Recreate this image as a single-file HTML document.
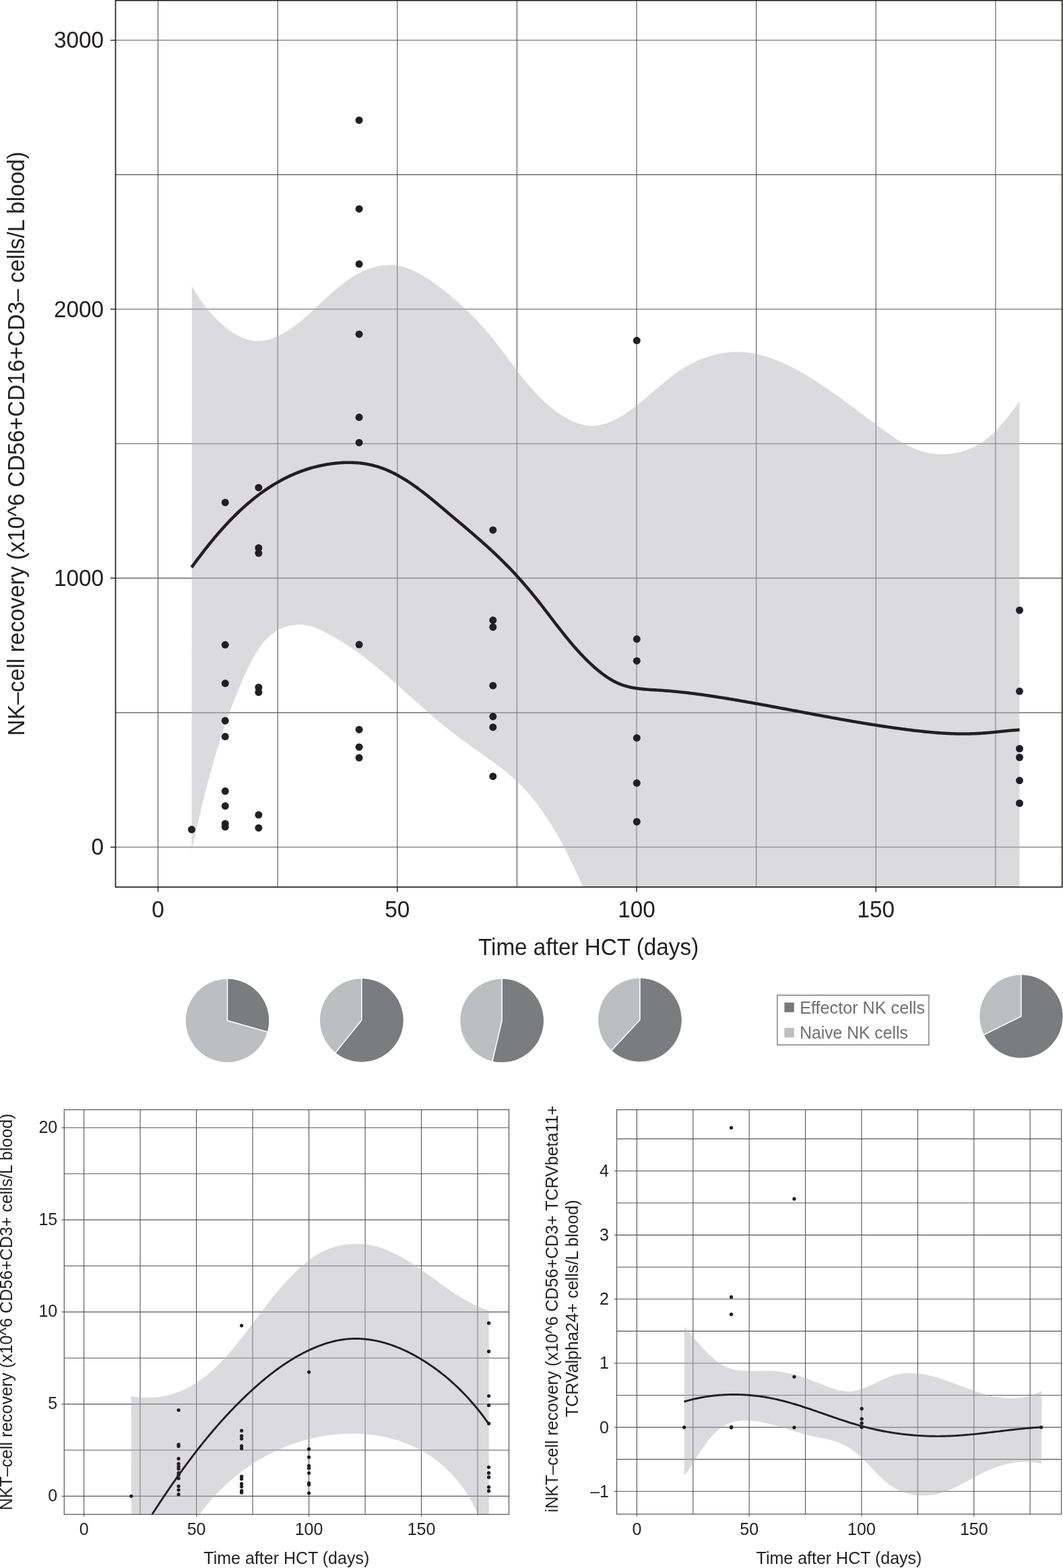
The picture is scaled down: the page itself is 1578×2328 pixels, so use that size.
<!DOCTYPE html>
<html><head><meta charset="utf-8"><title>NK cell recovery after HCT</title>
<style>
html,body{margin:0;padding:0;background:#fff;}
body{width:1578px;height:2328px;overflow:hidden;position:relative;}
svg{position:absolute;left:0;top:0;display:block;}
text{font-family:'Liberation Sans', sans-serif;}
</style></head>
<body>
<svg width="1578" height="2328" viewBox="0 0 1578 2328" font-family="'Liberation Sans', sans-serif"><clipPath id="cm"><rect x="171.5" y="0.7" width="1405.2" height="1316.3"/></clipPath>
<g stroke="#555456" stroke-width="1.1"><line x1="171.5" y1="1257.75" x2="1576.7" y2="1257.75"/><line x1="171.5" y1="1058.08" x2="1576.7" y2="1058.08"/><line x1="171.5" y1="858.40" x2="1576.7" y2="858.40"/><line x1="171.5" y1="658.73" x2="1576.7" y2="658.73"/><line x1="171.5" y1="459.05" x2="1576.7" y2="459.05"/><line x1="171.5" y1="259.38" x2="1576.7" y2="259.38"/><line x1="171.5" y1="59.70" x2="1576.7" y2="59.70"/><line x1="234.60" y1="0.7" x2="234.60" y2="1317.0"/><line x1="412.21" y1="0.7" x2="412.21" y2="1317.0"/><line x1="589.82" y1="0.7" x2="589.82" y2="1317.0"/><line x1="767.44" y1="0.7" x2="767.44" y2="1317.0"/><line x1="945.05" y1="0.7" x2="945.05" y2="1317.0"/><line x1="1122.66" y1="0.7" x2="1122.66" y2="1317.0"/><line x1="1300.27" y1="0.7" x2="1300.27" y2="1317.0"/><line x1="1477.89" y1="0.7" x2="1477.89" y2="1317.0"/></g>
<path d="M284.86,424.52 L285.89,426.41 L286.97,428.32 L288.10,430.27 L289.27,432.24 L290.49,434.24 L291.75,436.25 L293.05,438.29 L294.39,440.34 L295.78,442.41 L297.21,444.48 L298.67,446.57 L300.17,448.66 L301.71,450.75 L303.29,452.85 L304.90,454.94 L306.55,457.03 L308.23,459.11 L309.94,461.17 L311.69,463.23 L313.46,465.27 L315.27,467.29 L317.10,469.29 L318.97,471.27 L320.86,473.22 L322.77,475.14 L324.71,477.03 L326.68,478.88 L328.67,480.70 L330.68,482.48 L332.72,484.21 L334.77,485.90 L336.85,487.54 L338.94,489.14 L341.05,490.68 L343.18,492.16 L345.32,493.58 L347.48,494.95 L349.66,496.25 L351.85,497.48 L354.05,498.65 L356.26,499.74 L358.48,500.76 L360.71,501.70 L362.96,502.56 L365.21,503.34 L367.46,504.04 L369.72,504.65 L371.99,505.16 L374.26,505.59 L376.54,505.92 L378.82,506.15 L381.10,506.27 L383.38,506.30 L385.66,506.23 L387.93,506.07 L390.21,505.81 L392.49,505.47 L394.76,505.04 L397.04,504.53 L399.30,503.93 L401.57,503.26 L403.83,502.51 L406.08,501.69 L408.33,500.80 L410.57,499.84 L412.80,498.82 L415.03,497.74 L417.25,496.61 L419.46,495.41 L421.66,494.16 L423.84,492.87 L426.02,491.53 L428.19,490.14 L430.34,488.71 L432.49,487.24 L434.61,485.74 L436.73,484.20 L438.83,482.64 L440.91,481.05 L442.98,479.43 L445.03,477.79 L447.07,476.13 L449.09,474.46 L451.09,472.77 L453.07,471.07 L455.04,469.36 L457.00,467.64 L458.94,465.91 L460.87,464.17 L462.78,462.42 L464.69,460.67 L466.59,458.92 L468.48,457.16 L470.37,455.40 L472.24,453.64 L474.12,451.88 L475.99,450.13 L477.85,448.37 L479.72,446.62 L481.58,444.88 L483.44,443.14 L485.31,441.41 L487.17,439.69 L489.04,437.99 L490.92,436.29 L492.80,434.61 L494.69,432.94 L496.58,431.28 L498.48,429.64 L500.39,428.03 L502.32,426.43 L504.25,424.85 L506.20,423.29 L508.16,421.75 L510.13,420.24 L512.12,418.76 L514.13,417.30 L516.15,415.87 L518.20,414.46 L520.26,413.09 L522.35,411.75 L524.45,410.44 L526.58,409.17 L528.73,407.93 L530.91,406.73 L533.12,405.56 L535.35,404.44 L537.61,403.35 L539.89,402.31 L542.21,401.31 L544.54,400.36 L546.90,399.45 L549.28,398.60 L551.67,397.80 L554.08,397.06 L556.50,396.38 L558.94,395.77 L561.38,395.21 L563.82,394.73 L566.28,394.31 L568.73,393.97 L571.18,393.70 L573.63,393.50 L576.08,393.39 L578.52,393.36 L580.95,393.42 L583.38,393.56 L585.79,393.78 L588.19,394.08 L590.58,394.46 L592.96,394.92 L595.33,395.45 L597.69,396.05 L600.04,396.71 L602.38,397.44 L604.71,398.24 L607.02,399.09 L609.33,400.01 L611.62,400.97 L613.90,401.99 L616.17,403.07 L618.43,404.18 L620.67,405.35 L622.91,406.55 L625.13,407.80 L627.34,409.08 L629.53,410.40 L631.72,411.75 L633.89,413.13 L636.04,414.54 L638.19,415.98 L640.32,417.43 L642.44,418.91 L644.54,420.40 L646.64,421.91 L648.71,423.44 L650.78,424.97 L652.83,426.51 L654.86,428.06 L656.89,429.61 L658.90,431.17 L660.89,432.75 L662.87,434.32 L664.84,435.91 L666.80,437.51 L668.75,439.11 L670.68,440.72 L672.60,442.34 L674.50,443.97 L676.40,445.61 L678.28,447.25 L680.15,448.90 L682.01,450.57 L683.86,452.24 L685.69,453.92 L687.52,455.61 L689.33,457.30 L691.13,459.01 L692.93,460.72 L694.71,462.45 L696.48,464.18 L698.24,465.92 L699.99,467.68 L701.73,469.44 L703.46,471.21 L705.18,472.99 L706.89,474.78 L708.59,476.58 L710.28,478.38 L711.96,480.20 L713.63,482.03 L715.30,483.87 L716.95,485.72 L718.60,487.57 L720.24,489.44 L721.87,491.32 L723.49,493.21 L725.11,495.10 L726.71,497.01 L728.31,498.93 L729.90,500.86 L731.48,502.80 L733.06,504.75 L734.63,506.71 L736.19,508.68 L737.75,510.66 L739.30,512.65 L740.84,514.64 L742.38,516.65 L743.92,518.66 L745.45,520.68 L746.98,522.70 L748.51,524.73 L750.04,526.76 L751.56,528.79 L753.08,530.83 L754.61,532.87 L756.13,534.91 L757.66,536.95 L759.19,538.99 L760.71,541.03 L762.25,543.07 L763.78,545.10 L765.32,547.14 L766.86,549.16 L768.41,551.19 L769.96,553.21 L771.52,555.22 L773.09,557.23 L774.66,559.23 L776.24,561.22 L777.83,563.20 L779.43,565.18 L781.04,567.14 L782.65,569.10 L784.28,571.04 L785.92,572.97 L787.57,574.89 L789.23,576.79 L790.91,578.68 L792.60,580.56 L794.30,582.42 L796.01,584.26 L797.75,586.09 L799.49,587.90 L801.25,589.69 L803.03,591.46 L804.83,593.21 L806.64,594.94 L808.48,596.65 L810.33,598.34 L812.20,600.01 L814.09,601.65 L816.00,603.27 L817.93,604.87 L819.89,606.43 L821.86,607.98 L823.86,609.50 L825.88,610.98 L827.93,612.45 L830.00,613.88 L832.09,615.28 L834.21,616.66 L836.36,618.00 L838.53,619.30 L840.72,620.56 L842.93,621.79 L845.16,622.96 L847.41,624.08 L849.68,625.14 L851.96,626.15 L854.25,627.09 L856.56,627.97 L858.88,628.77 L861.21,629.51 L863.55,630.16 L865.89,630.73 L868.24,631.21 L870.59,631.60 L872.95,631.90 L875.30,632.10 L877.66,632.20 L880.02,632.20 L882.37,632.10 L884.72,631.91 L887.07,631.62 L889.41,631.25 L891.75,630.79 L894.09,630.24 L896.42,629.62 L898.75,628.92 L901.07,628.15 L903.38,627.31 L905.68,626.40 L907.97,625.42 L910.26,624.38 L912.54,623.29 L914.80,622.14 L917.06,620.94 L919.30,619.69 L921.54,618.39 L923.75,617.06 L925.96,615.68 L928.15,614.26 L930.33,612.81 L932.49,611.33 L934.64,609.83 L936.77,608.30 L938.89,606.74 L940.98,605.17 L943.06,603.58 L945.12,601.99 L947.16,600.38 L949.19,598.76 L951.19,597.14 L953.18,595.51 L955.16,593.87 L957.12,592.23 L959.07,590.59 L961.01,588.95 L962.94,587.30 L964.86,585.65 L966.78,584.01 L968.68,582.36 L970.59,580.72 L972.49,579.08 L974.38,577.45 L976.28,575.82 L978.17,574.20 L980.07,572.59 L981.96,570.98 L983.86,569.39 L985.77,567.80 L987.68,566.23 L989.60,564.67 L991.52,563.12 L993.46,561.59 L995.40,560.08 L997.36,558.58 L999.33,557.09 L1001.31,555.63 L1003.31,554.19 L1005.32,552.76 L1007.36,551.36 L1009.41,549.98 L1011.48,548.63 L1013.57,547.30 L1015.68,545.99 L1017.82,544.71 L1019.98,543.46 L1022.16,542.24 L1024.37,541.05 L1026.60,539.88 L1028.85,538.75 L1031.13,537.65 L1033.42,536.58 L1035.73,535.54 L1038.06,534.54 L1040.40,533.57 L1042.76,532.64 L1045.14,531.74 L1047.53,530.88 L1049.93,530.05 L1052.35,529.26 L1054.77,528.52 L1057.21,527.81 L1059.66,527.14 L1062.12,526.51 L1064.58,525.93 L1067.05,525.39 L1069.53,524.89 L1072.01,524.43 L1074.50,524.02 L1076.99,523.65 L1079.49,523.34 L1081.98,523.06 L1084.48,522.84 L1086.98,522.66 L1089.47,522.53 L1091.97,522.46 L1094.46,522.43 L1096.95,522.46 L1099.43,522.53 L1101.92,522.66 L1104.39,522.83 L1106.86,523.05 L1109.33,523.32 L1111.79,523.63 L1114.25,523.98 L1116.70,524.38 L1119.15,524.82 L1121.59,525.31 L1124.02,525.83 L1126.45,526.39 L1128.87,526.98 L1131.29,527.62 L1133.69,528.29 L1136.09,528.99 L1138.49,529.73 L1140.87,530.50 L1143.25,531.30 L1145.62,532.13 L1147.98,532.99 L1150.33,533.88 L1152.67,534.79 L1155.01,535.73 L1157.33,536.69 L1159.64,537.68 L1161.95,538.69 L1164.24,539.72 L1166.53,540.78 L1168.81,541.85 L1171.07,542.95 L1173.33,544.06 L1175.58,545.19 L1177.82,546.35 L1180.05,547.52 L1182.27,548.70 L1184.49,549.91 L1186.69,551.13 L1188.89,552.36 L1191.08,553.62 L1193.26,554.88 L1195.43,556.16 L1197.59,557.46 L1199.75,558.77 L1201.90,560.08 L1204.04,561.42 L1206.18,562.76 L1208.31,564.11 L1210.43,565.48 L1212.54,566.85 L1214.65,568.23 L1216.75,569.63 L1218.84,571.03 L1220.93,572.43 L1223.01,573.85 L1225.09,575.27 L1227.16,576.69 L1229.22,578.13 L1231.28,579.56 L1233.33,581.00 L1235.37,582.45 L1237.41,583.89 L1239.45,585.34 L1241.48,586.80 L1243.51,588.25 L1245.53,589.70 L1247.54,591.16 L1249.55,592.61 L1251.56,594.07 L1253.56,595.53 L1255.56,596.98 L1257.56,598.44 L1259.56,599.90 L1261.55,601.37 L1263.54,602.83 L1265.54,604.30 L1267.53,605.76 L1269.52,607.23 L1271.51,608.71 L1273.50,610.18 L1275.49,611.66 L1277.48,613.14 L1279.48,614.62 L1281.47,616.11 L1283.47,617.60 L1285.47,619.09 L1287.48,620.59 L1289.49,622.09 L1291.50,623.59 L1293.52,625.10 L1295.54,626.61 L1297.57,628.12 L1299.60,629.65 L1301.64,631.17 L1303.69,632.70 L1305.74,634.22 L1307.80,635.75 L1309.87,637.27 L1311.94,638.79 L1314.02,640.30 L1316.11,641.80 L1318.21,643.29 L1320.32,644.77 L1322.43,646.23 L1324.56,647.68 L1326.69,649.11 L1328.83,650.52 L1330.99,651.90 L1333.15,653.26 L1335.33,654.60 L1337.51,655.91 L1339.71,657.19 L1341.92,658.43 L1344.14,659.65 L1346.37,660.82 L1348.61,661.97 L1350.87,663.07 L1353.14,664.13 L1355.42,665.15 L1357.71,666.12 L1360.02,667.04 L1362.34,667.92 L1364.68,668.75 L1367.03,669.52 L1369.40,670.24 L1371.78,670.91 L1374.18,671.52 L1376.59,672.06 L1379.01,672.56 L1381.44,672.99 L1383.89,673.36 L1386.34,673.68 L1388.80,673.94 L1391.27,674.15 L1393.74,674.29 L1396.21,674.38 L1398.69,674.41 L1401.17,674.39 L1403.65,674.31 L1406.13,674.17 L1408.60,673.97 L1411.07,673.72 L1413.53,673.41 L1415.99,673.04 L1418.44,672.62 L1420.89,672.14 L1423.32,671.60 L1425.74,671.01 L1428.14,670.36 L1430.53,669.65 L1432.91,668.89 L1435.27,668.07 L1437.61,667.20 L1439.93,666.27 L1442.24,665.28 L1444.51,664.24 L1446.77,663.14 L1449.00,661.99 L1451.21,660.78 L1453.39,659.51 L1455.54,658.19 L1457.66,656.82 L1459.75,655.39 L1461.81,653.91 L1463.84,652.37 L1465.85,650.80 L1467.82,649.17 L1469.77,647.51 L1471.69,645.80 L1473.58,644.06 L1475.45,642.29 L1477.29,640.48 L1479.11,638.64 L1480.90,636.77 L1482.66,634.88 L1484.40,632.97 L1486.12,631.03 L1487.81,629.08 L1489.48,627.11 L1491.13,625.13 L1492.75,623.14 L1494.36,621.14 L1495.94,619.13 L1497.50,617.13 L1499.04,615.12 L1500.56,613.11 L1502.06,611.11 L1503.54,609.11 L1505.01,607.12 L1506.45,605.14 L1507.88,603.18 L1509.29,601.23 L1510.68,599.30 L1512.06,597.39 L1513.42,595.51 L1513.5,1330 L880,1345 L865.03,1315.94 L864.02,1313.69 L863.00,1311.43 L861.98,1309.17 L860.95,1306.91 L859.92,1304.64 L858.88,1302.38 L857.84,1300.11 L856.79,1297.84 L855.74,1295.57 L854.68,1293.30 L853.62,1291.02 L852.55,1288.75 L851.47,1286.48 L850.39,1284.21 L849.30,1281.94 L848.21,1279.67 L847.11,1277.40 L846.00,1275.13 L844.88,1272.87 L843.76,1270.60 L842.62,1268.34 L841.48,1266.09 L840.34,1263.83 L839.18,1261.58 L838.02,1259.33 L836.84,1257.09 L835.66,1254.85 L834.47,1252.61 L833.27,1250.38 L832.06,1248.16 L830.85,1245.94 L829.62,1243.72 L828.38,1241.51 L827.13,1239.31 L825.87,1237.12 L824.61,1234.93 L823.33,1232.75 L822.04,1230.57 L820.73,1228.40 L819.42,1226.24 L818.10,1224.09 L816.76,1221.95 L815.42,1219.82 L814.06,1217.69 L812.69,1215.58 L811.30,1213.47 L809.91,1211.38 L808.50,1209.29 L807.07,1207.22 L805.64,1205.15 L804.19,1203.10 L802.73,1201.06 L801.25,1199.03 L799.77,1197.01 L798.26,1195.00 L796.75,1193.01 L795.21,1191.03 L793.67,1189.06 L792.11,1187.11 L790.53,1185.17 L788.94,1183.24 L787.33,1181.33 L785.71,1179.44 L784.07,1177.55 L782.42,1175.69 L780.75,1173.84 L779.06,1172.00 L777.36,1170.18 L775.64,1168.38 L773.91,1166.59 L772.15,1164.82 L770.38,1163.07 L768.59,1161.33 L766.79,1159.61 L764.97,1157.91 L763.13,1156.23 L761.27,1154.56 L759.40,1152.91 L757.52,1151.27 L755.62,1149.65 L753.70,1148.04 L751.77,1146.45 L749.83,1144.87 L747.88,1143.30 L745.92,1141.74 L743.95,1140.19 L741.96,1138.65 L739.97,1137.12 L737.96,1135.61 L735.95,1134.10 L733.93,1132.59 L731.91,1131.10 L729.87,1129.61 L727.83,1128.13 L725.79,1126.65 L723.74,1125.18 L721.68,1123.72 L719.62,1122.25 L717.56,1120.79 L715.49,1119.33 L713.43,1117.88 L711.36,1116.43 L709.29,1114.97 L707.22,1113.52 L705.15,1112.07 L703.08,1110.61 L701.01,1109.16 L698.95,1107.70 L696.88,1106.24 L694.83,1104.77 L692.77,1103.30 L690.72,1101.83 L688.67,1100.35 L686.63,1098.87 L684.59,1097.38 L682.57,1095.88 L680.54,1094.38 L678.53,1092.87 L676.52,1091.34 L674.53,1089.82 L672.54,1088.28 L670.55,1086.73 L668.58,1085.18 L666.61,1083.62 L664.65,1082.06 L662.69,1080.48 L660.74,1078.90 L658.80,1077.32 L656.86,1075.72 L654.93,1074.12 L653.00,1072.52 L651.08,1070.91 L649.17,1069.30 L647.25,1067.68 L645.35,1066.05 L643.44,1064.42 L641.55,1062.79 L639.65,1061.15 L637.76,1059.51 L635.87,1057.87 L633.99,1056.22 L632.10,1054.56 L630.23,1052.91 L628.35,1051.25 L626.47,1049.59 L624.60,1047.93 L622.73,1046.26 L620.86,1044.60 L618.99,1042.93 L617.13,1041.26 L615.26,1039.59 L613.40,1037.92 L611.53,1036.24 L609.67,1034.57 L607.81,1032.90 L605.94,1031.22 L604.08,1029.55 L602.21,1027.88 L600.35,1026.20 L598.48,1024.53 L596.61,1022.86 L594.74,1021.19 L592.87,1019.52 L590.99,1017.86 L589.12,1016.19 L587.24,1014.53 L585.36,1012.87 L583.48,1011.21 L581.59,1009.56 L579.70,1007.90 L577.80,1006.26 L575.91,1004.61 L574.01,1002.97 L572.10,1001.33 L570.19,999.70 L568.28,998.07 L566.36,996.44 L564.43,994.83 L562.50,993.21 L560.57,991.60 L558.63,990.00 L556.68,988.40 L554.73,986.81 L552.77,985.23 L550.80,983.65 L548.83,982.08 L546.85,980.52 L544.86,978.96 L542.87,977.42 L540.87,975.88 L538.86,974.35 L536.84,972.84 L534.82,971.33 L532.78,969.83 L530.74,968.34 L528.69,966.86 L526.63,965.40 L524.56,963.94 L522.48,962.50 L520.40,961.07 L518.30,959.65 L516.19,958.24 L514.08,956.85 L511.95,955.47 L509.81,954.10 L507.66,952.75 L505.50,951.41 L503.33,950.09 L501.15,948.78 L498.96,947.49 L496.75,946.21 L494.54,944.95 L492.31,943.71 L490.07,942.48 L487.81,941.27 L485.55,940.07 L483.27,938.90 L480.97,937.74 L478.67,936.61 L476.35,935.50 L474.02,934.44 L471.67,933.42 L469.31,932.46 L466.94,931.56 L464.56,930.73 L462.16,929.97 L459.75,929.31 L457.32,928.73 L454.89,928.26 L452.44,927.88 L449.98,927.61 L447.52,927.44 L445.06,927.36 L442.60,927.38 L440.15,927.50 L437.70,927.70 L435.27,928.00 L432.86,928.39 L430.47,928.87 L428.10,929.43 L425.75,930.08 L423.44,930.81 L421.16,931.63 L418.92,932.52 L416.72,933.49 L414.56,934.54 L412.45,935.67 L410.39,936.87 L408.38,938.14 L406.42,939.49 L404.50,940.90 L402.63,942.37 L400.80,943.91 L399.01,945.51 L397.27,947.17 L395.57,948.88 L393.90,950.65 L392.28,952.47 L390.69,954.34 L389.14,956.25 L387.62,958.22 L386.13,960.22 L384.68,962.27 L383.26,964.35 L381.87,966.47 L380.51,968.63 L379.17,970.81 L377.86,973.03 L376.58,975.27 L375.32,977.54 L374.09,979.83 L372.87,982.15 L371.68,984.48 L370.51,986.83 L369.35,989.19 L368.21,991.56 L367.09,993.95 L365.98,996.34 L364.89,998.74 L363.81,1001.14 L362.74,1003.54 L361.68,1005.93 L360.63,1008.33 L359.59,1010.73 L358.56,1013.12 L357.54,1015.51 L356.52,1017.89 L355.52,1020.28 L354.53,1022.66 L353.54,1025.04 L352.56,1027.42 L351.59,1029.80 L350.63,1032.17 L349.68,1034.55 L348.74,1036.92 L347.80,1039.29 L346.88,1041.66 L345.96,1044.02 L345.05,1046.39 L344.15,1048.75 L343.25,1051.12 L342.36,1053.48 L341.48,1055.84 L340.61,1058.20 L339.75,1060.56 L338.89,1062.92 L338.04,1065.28 L337.20,1067.63 L336.36,1069.99 L335.54,1072.34 L334.71,1074.70 L333.90,1077.06 L333.09,1079.41 L332.29,1081.76 L331.50,1084.12 L330.71,1086.47 L329.93,1088.83 L329.15,1091.18 L328.38,1093.54 L327.62,1095.89 L326.86,1098.25 L326.11,1100.60 L325.36,1102.96 L324.63,1105.32 L323.89,1107.67 L323.16,1110.03 L322.44,1112.39 L321.72,1114.75 L321.01,1117.11 L320.30,1119.47 L319.60,1121.84 L318.90,1124.20 L318.21,1126.57 L317.52,1128.93 L316.84,1131.30 L316.16,1133.67 L315.49,1136.04 L314.82,1138.41 L314.16,1140.79 L313.50,1143.16 L312.84,1145.54 L312.19,1147.92 L311.54,1150.30 L310.90,1152.69 L310.26,1155.07 L309.62,1157.46 L308.99,1159.85 L308.36,1162.25 L307.73,1164.64 L307.11,1167.04 L306.49,1169.44 L305.87,1171.85 L305.26,1174.25 L304.65,1176.66 L304.05,1179.07 L303.44,1181.49 L302.84,1183.91 L302.24,1186.33 L301.64,1188.75 L301.05,1191.18 L300.46,1193.61 L299.87,1196.05 L299.28,1198.49 L298.70,1200.93 L298.12,1203.37 L297.53,1205.82 L296.96,1208.28 L296.38,1210.73 L295.80,1213.19 L295.23,1215.66 L294.65,1218.13 L294.08,1220.60 L293.51,1223.08 L292.94,1225.56 L292.38,1228.05 L291.81,1230.54 L291.24,1233.04 L290.68,1235.54 L290.11,1238.05 L289.55,1240.56 L288.99,1243.07 L288.42,1245.59 L287.86,1248.12 L287.30,1250.65 L286.74,1253.18 L286.17,1255.72 L285.61,1258.27 L285.05,1260.82 L284.49,1263.38 Z" fill="rgba(176,177,180,0.46)" clip-path="url(#cm)"/>
<path d="M284.48,842.41 L285.92,840.42 L287.37,838.44 L288.82,836.45 L290.29,834.46 L291.76,832.47 L293.23,830.48 L294.72,828.49 L296.21,826.51 L297.71,824.52 L299.22,822.54 L300.74,820.56 L302.26,818.58 L303.80,816.61 L305.34,814.64 L306.89,812.67 L308.45,810.71 L310.02,808.75 L311.60,806.79 L313.18,804.84 L314.78,802.89 L316.38,800.95 L317.99,799.02 L319.61,797.09 L321.24,795.16 L322.88,793.25 L324.53,791.34 L326.19,789.44 L327.85,787.54 L329.53,785.65 L331.22,783.78 L332.91,781.90 L334.62,780.04 L336.33,778.19 L338.06,776.35 L339.79,774.51 L341.54,772.69 L343.29,770.88 L345.06,769.08 L346.83,767.28 L348.62,765.50 L350.41,763.74 L352.22,761.98 L354.03,760.24 L355.86,758.50 L357.70,756.79 L359.54,755.08 L361.40,753.39 L363.27,751.71 L365.15,750.05 L367.04,748.40 L368.94,746.76 L370.85,745.14 L372.78,743.54 L374.71,741.95 L376.66,740.37 L378.62,738.82 L380.59,737.28 L382.57,735.75 L384.56,734.25 L386.56,732.76 L388.58,731.29 L390.60,729.84 L392.64,728.40 L394.69,726.99 L396.75,725.59 L398.83,724.22 L400.92,722.86 L403.01,721.52 L405.12,720.21 L407.25,718.91 L409.38,717.64 L411.53,716.39 L413.69,715.15 L415.86,713.94 L418.05,712.76 L420.25,711.59 L422.46,710.45 L424.68,709.33 L426.92,708.24 L429.17,707.17 L431.43,706.12 L433.71,705.10 L436.00,704.10 L438.30,703.13 L440.61,702.18 L442.94,701.26 L445.28,700.36 L447.63,699.49 L449.99,698.65 L452.36,697.83 L454.74,697.04 L457.14,696.28 L459.54,695.54 L461.95,694.83 L464.37,694.15 L466.81,693.49 L469.25,692.87 L471.70,692.27 L474.16,691.70 L476.62,691.17 L479.10,690.66 L481.58,690.17 L484.07,689.72 L486.57,689.30 L489.07,688.91 L491.58,688.55 L494.10,688.22 L496.62,687.93 L499.15,687.66 L501.68,687.42 L504.22,687.22 L506.76,687.05 L509.30,686.91 L511.84,686.81 L514.38,686.75 L516.92,686.72 L519.46,686.72 L521.99,686.77 L524.52,686.85 L527.04,686.97 L529.55,687.13 L532.06,687.33 L534.56,687.57 L537.05,687.86 L539.53,688.18 L541.99,688.55 L544.44,688.96 L546.88,689.41 L549.30,689.92 L551.71,690.46 L554.10,691.05 L556.47,691.68 L558.83,692.36 L561.18,693.07 L563.51,693.83 L565.83,694.62 L568.13,695.46 L570.42,696.33 L572.69,697.24 L574.96,698.18 L577.20,699.16 L579.44,700.18 L581.67,701.22 L583.88,702.30 L586.08,703.41 L588.27,704.56 L590.44,705.73 L592.61,706.93 L594.76,708.15 L596.91,709.41 L599.04,710.69 L601.17,711.99 L603.28,713.32 L605.38,714.67 L607.48,716.05 L609.57,717.45 L611.64,718.86 L613.71,720.30 L615.77,721.76 L617.82,723.23 L619.87,724.72 L621.91,726.23 L623.94,727.75 L625.96,729.29 L627.98,730.84 L629.99,732.40 L631.99,733.97 L633.99,735.56 L635.98,737.15 L637.97,738.76 L639.95,740.37 L641.92,741.99 L643.90,743.61 L645.86,745.25 L647.83,746.88 L649.79,748.52 L651.74,750.16 L653.70,751.80 L655.65,753.45 L657.59,755.09 L659.54,756.74 L661.48,758.38 L663.42,760.02 L665.36,761.65 L667.29,763.29 L669.23,764.92 L671.16,766.54 L673.09,768.17 L675.02,769.79 L676.94,771.41 L678.87,773.03 L680.79,774.65 L682.71,776.27 L684.62,777.88 L686.53,779.50 L688.44,781.11 L690.35,782.73 L692.25,784.35 L694.15,785.96 L696.05,787.58 L697.94,789.20 L699.83,790.82 L701.71,792.44 L703.60,794.07 L705.48,795.69 L707.35,797.32 L709.22,798.95 L711.09,800.58 L712.95,802.22 L714.81,803.86 L716.66,805.51 L718.51,807.16 L720.36,808.81 L722.20,810.47 L724.03,812.13 L725.86,813.80 L727.69,815.47 L729.51,817.15 L731.32,818.83 L733.13,820.52 L734.94,822.22 L736.74,823.92 L738.53,825.63 L740.32,827.35 L742.11,829.08 L743.88,830.81 L745.66,832.55 L747.42,834.30 L749.18,836.06 L750.94,837.82 L752.68,839.60 L754.42,841.38 L756.16,843.18 L757.89,844.98 L759.61,846.79 L761.33,848.61 L763.04,850.44 L764.74,852.28 L766.43,854.13 L768.13,855.98 L769.81,857.84 L771.49,859.71 L773.16,861.59 L774.82,863.48 L776.48,865.37 L778.13,867.27 L779.77,869.17 L781.41,871.08 L783.04,873.00 L784.67,874.93 L786.29,876.86 L787.90,878.79 L789.50,880.73 L791.10,882.68 L792.69,884.63 L794.28,886.59 L795.86,888.55 L797.43,890.51 L799.00,892.48 L800.55,894.46 L802.11,896.44 L803.66,898.42 L805.20,900.40 L806.74,902.39 L808.27,904.37 L809.81,906.36 L811.34,908.36 L812.87,910.35 L814.39,912.34 L815.92,914.33 L817.44,916.33 L818.96,918.32 L820.49,920.31 L822.01,922.30 L823.54,924.29 L825.07,926.28 L826.60,928.26 L828.13,930.24 L829.67,932.22 L831.21,934.20 L832.75,936.17 L834.30,938.13 L835.86,940.10 L837.42,942.05 L838.98,944.01 L840.55,945.95 L842.14,947.89 L843.72,949.83 L845.32,951.75 L846.92,953.67 L848.54,955.59 L850.16,957.49 L851.80,959.39 L853.44,961.28 L855.10,963.15 L856.77,965.02 L858.45,966.88 L860.14,968.73 L861.84,970.57 L863.56,972.40 L865.30,974.21 L867.05,976.02 L868.81,977.81 L870.59,979.59 L872.38,981.36 L874.20,983.11 L876.03,984.85 L877.87,986.58 L879.74,988.29 L881.62,989.99 L883.52,991.67 L885.45,993.33 L887.39,994.97 L889.35,996.58 L891.32,998.16 L893.32,999.71 L895.34,1001.23 L897.38,1002.72 L899.44,1004.16 L901.52,1005.57 L903.62,1006.93 L905.74,1008.24 L907.88,1009.51 L910.04,1010.73 L912.22,1011.89 L914.43,1013.00 L916.65,1014.04 L918.90,1015.03 L921.17,1015.95 L923.46,1016.81 L925.78,1017.60 L928.11,1018.33 L930.47,1019.00 L932.84,1019.61 L935.23,1020.17 L937.64,1020.68 L940.06,1021.15 L942.50,1021.57 L944.94,1021.95 L947.41,1022.29 L949.88,1022.60 L952.36,1022.88 L954.86,1023.13 L957.36,1023.36 L959.86,1023.57 L962.38,1023.76 L964.89,1023.94 L967.42,1024.10 L969.94,1024.26 L972.47,1024.42 L974.99,1024.57 L977.52,1024.72 L980.05,1024.88 L982.57,1025.05 L985.09,1025.23 L987.61,1025.42 L990.12,1025.61 L992.63,1025.82 L995.14,1026.03 L997.65,1026.25 L1000.16,1026.48 L1002.66,1026.72 L1005.16,1026.96 L1007.66,1027.21 L1010.16,1027.47 L1012.65,1027.74 L1015.15,1028.01 L1017.64,1028.29 L1020.13,1028.58 L1022.62,1028.88 L1025.10,1029.18 L1027.59,1029.49 L1030.07,1029.80 L1032.55,1030.12 L1035.03,1030.45 L1037.51,1030.78 L1039.99,1031.11 L1042.46,1031.46 L1044.94,1031.80 L1047.41,1032.16 L1049.89,1032.52 L1052.36,1032.88 L1054.83,1033.25 L1057.30,1033.62 L1059.77,1033.99 L1062.24,1034.37 L1064.71,1034.76 L1067.18,1035.15 L1069.64,1035.54 L1072.11,1035.93 L1074.58,1036.33 L1077.04,1036.73 L1079.51,1037.14 L1081.97,1037.55 L1084.44,1037.96 L1086.91,1038.37 L1089.37,1038.79 L1091.84,1039.21 L1094.30,1039.63 L1096.76,1040.05 L1099.23,1040.48 L1101.69,1040.90 L1104.16,1041.33 L1106.62,1041.77 L1109.09,1042.20 L1111.55,1042.64 L1114.02,1043.07 L1116.48,1043.51 L1118.94,1043.96 L1121.41,1044.40 L1123.87,1044.84 L1126.34,1045.29 L1128.80,1045.74 L1131.26,1046.19 L1133.73,1046.64 L1136.19,1047.09 L1138.65,1047.55 L1141.12,1048.00 L1143.58,1048.46 L1146.05,1048.91 L1148.51,1049.37 L1150.97,1049.83 L1153.44,1050.29 L1155.90,1050.75 L1158.36,1051.21 L1160.83,1051.67 L1163.29,1052.13 L1165.76,1052.60 L1168.22,1053.06 L1170.68,1053.52 L1173.15,1053.99 L1175.61,1054.45 L1178.08,1054.92 L1180.54,1055.38 L1183.01,1055.84 L1185.47,1056.31 L1187.94,1056.77 L1190.40,1057.24 L1192.87,1057.70 L1195.33,1058.16 L1197.80,1058.63 L1200.26,1059.09 L1202.73,1059.55 L1205.19,1060.01 L1207.66,1060.47 L1210.12,1060.94 L1212.59,1061.39 L1215.06,1061.85 L1217.52,1062.31 L1219.99,1062.77 L1222.46,1063.22 L1224.92,1063.68 L1227.39,1064.13 L1229.86,1064.58 L1232.33,1065.03 L1234.79,1065.48 L1237.26,1065.93 L1239.73,1066.38 L1242.20,1066.82 L1244.67,1067.27 L1247.14,1067.71 L1249.61,1068.15 L1252.08,1068.59 L1254.55,1069.02 L1257.02,1069.46 L1259.49,1069.89 L1261.96,1070.32 L1264.43,1070.75 L1266.90,1071.17 L1269.37,1071.59 L1271.84,1072.01 L1274.31,1072.43 L1276.79,1072.85 L1279.26,1073.26 L1281.73,1073.67 L1284.21,1074.08 L1286.68,1074.48 L1289.15,1074.89 L1291.63,1075.29 L1294.10,1075.68 L1296.58,1076.07 L1299.05,1076.46 L1301.53,1076.85 L1304.01,1077.23 L1306.48,1077.61 L1308.96,1077.99 L1311.44,1078.36 L1313.92,1078.73 L1316.39,1079.10 L1318.87,1079.46 L1321.35,1079.82 L1323.83,1080.18 L1326.31,1080.53 L1328.79,1080.87 L1331.27,1081.22 L1333.75,1081.56 L1336.24,1081.89 L1338.72,1082.22 L1341.20,1082.55 L1343.68,1082.87 L1346.17,1083.19 L1348.65,1083.50 L1351.14,1083.81 L1353.62,1084.11 L1356.11,1084.41 L1358.59,1084.71 L1361.08,1085.00 L1363.57,1085.28 L1366.06,1085.55 L1368.54,1085.82 L1371.03,1086.09 L1373.52,1086.34 L1376.01,1086.59 L1378.50,1086.83 L1380.99,1087.07 L1383.49,1087.29 L1385.98,1087.51 L1388.47,1087.71 L1390.96,1087.91 L1393.46,1088.10 L1395.95,1088.27 L1398.45,1088.44 L1400.94,1088.60 L1403.44,1088.74 L1405.93,1088.88 L1408.43,1089.00 L1410.93,1089.11 L1413.43,1089.21 L1415.93,1089.30 L1418.42,1089.37 L1420.92,1089.43 L1423.42,1089.48 L1425.93,1089.51 L1428.43,1089.53 L1430.93,1089.53 L1433.43,1089.52 L1435.94,1089.49 L1438.44,1089.45 L1440.94,1089.39 L1443.45,1089.32 L1445.96,1089.23 L1448.46,1089.12 L1450.97,1089.00 L1453.48,1088.86 L1455.98,1088.70 L1458.49,1088.53 L1461.00,1088.34 L1463.51,1088.14 L1466.02,1087.92 L1468.53,1087.70 L1471.04,1087.47 L1473.55,1087.23 L1476.05,1086.98 L1478.56,1086.73 L1481.07,1086.48 L1483.57,1086.23 L1486.08,1085.97 L1488.58,1085.72 L1491.08,1085.47 L1493.58,1085.23 L1496.08,1084.99 L1498.58,1084.76 L1501.07,1084.54 L1503.56,1084.32 L1506.05,1084.12 L1508.54,1083.94 L1511.02,1083.76 L1513.50,1083.61" fill="none" stroke="#231f20" stroke-width="4.6" stroke-linejoin="round"/>
<g fill="#231f20"><circle cx="284.5" cy="1231.6" r="5.5"/><circle cx="334.3" cy="746.1" r="5.5"/><circle cx="334.3" cy="957.3" r="5.5"/><circle cx="334.3" cy="1014.6" r="5.5"/><circle cx="334.3" cy="1070.1" r="5.5"/><circle cx="334.3" cy="1093.6" r="5.5"/><circle cx="334.3" cy="1174.6" r="5.5"/><circle cx="334.3" cy="1196.6" r="5.5"/><circle cx="334.3" cy="1223" r="5.5"/><circle cx="334.3" cy="1227.6" r="5.5"/><circle cx="383.9" cy="723.9" r="5.5"/><circle cx="383.9" cy="813.5" r="5.5"/><circle cx="383.9" cy="821.3" r="5.5"/><circle cx="383.9" cy="1020.5" r="5.5"/><circle cx="383.9" cy="1027.8" r="5.5"/><circle cx="383.9" cy="1209.8" r="5.5"/><circle cx="383.9" cy="1229.2" r="5.5"/><circle cx="533.1" cy="178.4" r="5.5"/><circle cx="533.1" cy="310.2" r="5.5"/><circle cx="533.1" cy="392.1" r="5.5"/><circle cx="533.1" cy="496.2" r="5.5"/><circle cx="533.1" cy="619.6" r="5.5"/><circle cx="533.1" cy="657.2" r="5.5"/><circle cx="533.1" cy="957.1" r="5.5"/><circle cx="533.1" cy="1083.2" r="5.5"/><circle cx="533.1" cy="1109.2" r="5.5"/><circle cx="533.1" cy="1125.1" r="5.5"/><circle cx="731.8" cy="786.9" r="5.5"/><circle cx="731.8" cy="920.8" r="5.5"/><circle cx="731.8" cy="931.1" r="5.5"/><circle cx="731.8" cy="1017.9" r="5.5"/><circle cx="731.8" cy="1063.8" r="5.5"/><circle cx="731.8" cy="1079.7" r="5.5"/><circle cx="731.8" cy="1152.7" r="5.5"/><circle cx="945.3" cy="505.6" r="5.5"/><circle cx="945.3" cy="948.8" r="5.5"/><circle cx="945.3" cy="981.2" r="5.5"/><circle cx="945.3" cy="1095.6" r="5.5"/><circle cx="945.3" cy="1162.6" r="5.5"/><circle cx="945.3" cy="1220" r="5.5"/><circle cx="1513.5" cy="906" r="5.5"/><circle cx="1513.5" cy="1026.3" r="5.5"/><circle cx="1513.5" cy="1111.5" r="5.5"/><circle cx="1513.5" cy="1124.5" r="5.5"/><circle cx="1513.5" cy="1158.8" r="5.5"/><circle cx="1513.5" cy="1192.5" r="5.5"/></g>
<rect x="171.5" y="0.7" width="1405.2" height="1316.3" fill="none" stroke="#231f20" stroke-width="1.7"/>
<g stroke="#231f20" stroke-width="1.4"><line x1="164" y1="1257.75" x2="171.5" y2="1257.75"/><line x1="164" y1="858.40" x2="171.5" y2="858.40"/><line x1="164" y1="459.05" x2="171.5" y2="459.05"/><line x1="164" y1="59.70" x2="171.5" y2="59.70"/><line x1="234.60" y1="1317.0" x2="234.60" y2="1324.2"/><line x1="589.82" y1="1317.0" x2="589.82" y2="1324.2"/><line x1="945.05" y1="1317.0" x2="945.05" y2="1324.2"/><line x1="1300.27" y1="1317.0" x2="1300.27" y2="1324.2"/></g>
<g font-size="33.3" fill="#231f20"><text transform="translate(154,1269.25) scale(1,1.05)" text-anchor="end">0</text><text transform="translate(154,869.90) scale(1,1.05)" text-anchor="end">1000</text><text transform="translate(154,470.55) scale(1,1.05)" text-anchor="end">2000</text><text transform="translate(154,71.20) scale(1,1.05)" text-anchor="end">3000</text><text transform="translate(234.60,1362) scale(1,1.05)" text-anchor="middle">0</text><text transform="translate(589.82,1362) scale(1,1.05)" text-anchor="middle">50</text><text transform="translate(945.05,1362) scale(1,1.05)" text-anchor="middle">100</text><text transform="translate(1300.27,1362) scale(1,1.05)" text-anchor="middle">150</text><text transform="translate(709.9,1417.8) scale(1,1.05)">Time after HCT (days)</text><text transform="translate(35.6,1092.4) rotate(-90) scale(1,1.05)">NK–cell recovery (x10^6 CD56+CD16+CD3– cells/L blood)</text></g>
<circle cx="337.5" cy="1515.3" r="61.7" fill="#bdbec0"/>
<path d="M337.5,1515.3 L337.5,1453.60 A61.7,61.7 0 0 1 396.93,1531.89 Z" fill="#7b7c7e"/>
<path d="M337.5,1452.60 L337.5,1515.3 L397.89,1532.16" fill="none" stroke="#fff" stroke-width="1.6"/>
<circle cx="536.8" cy="1514.7" r="61.8" fill="#bdbec0"/>
<path d="M536.8,1514.7 L536.8,1452.90 A61.8,61.8 0 1 1 498.08,1562.86 Z" fill="#7b7c7e"/>
<path d="M536.8,1451.90 L536.8,1514.7 L497.45,1563.64" fill="none" stroke="#fff" stroke-width="1.6"/>
<circle cx="745.1" cy="1515.3" r="61.8" fill="#bdbec0"/>
<path d="M745.1,1515.3 L745.1,1453.50 A61.8,61.8 0 1 1 730.99,1575.47 Z" fill="#7b7c7e"/>
<path d="M745.1,1452.50 L745.1,1515.3 L730.76,1576.44" fill="none" stroke="#fff" stroke-width="1.6"/>
<circle cx="949.9" cy="1514.3" r="61.8" fill="#bdbec0"/>
<path d="M949.9,1514.3 L949.9,1452.50 A61.8,61.8 0 1 1 907.83,1559.57 Z" fill="#7b7c7e"/>
<path d="M949.9,1451.50 L949.9,1514.3 L907.15,1560.30" fill="none" stroke="#fff" stroke-width="1.6"/>
<circle cx="1515.9" cy="1509.0" r="61.6" fill="#bdbec0"/>
<path d="M1515.9,1509.0 L1515.9,1447.40 A61.6,61.6 0 1 1 1460.68,1536.29 Z" fill="#7b7c7e"/>
<path d="M1515.9,1446.40 L1515.9,1509.0 L1459.78,1536.74" fill="none" stroke="#fff" stroke-width="1.6"/>
<rect x="1153.9" y="1477.5" width="225" height="73.9" fill="#fff" stroke="#58585a" stroke-width="1.1"/>
<rect x="1164.4" y="1488.5" width="14.4" height="14.3" fill="#77787b"/>
<rect x="1164.4" y="1526" width="14.4" height="14.4" fill="#bdbec0"/>
<g fill="#6d6e71"><text font-size="25.2" transform="translate(1187.2,1504.9) scale(1,1.03)">Effector NK cells</text><text font-size="24.7" transform="translate(1187.2,1541.8) scale(1,1.03)">Naive NK cells</text></g>
<clipPath id="cl"><rect x="95.3" y="1647.6" width="660.2" height="600.8000000000002"/></clipPath>
<g stroke="#555456" stroke-width="1.1"><line x1="95.3" y1="2221.40" x2="755.5" y2="2221.40"/><line x1="95.3" y1="2153.01" x2="755.5" y2="2153.01"/><line x1="95.3" y1="2084.62" x2="755.5" y2="2084.62"/><line x1="95.3" y1="2016.24" x2="755.5" y2="2016.24"/><line x1="95.3" y1="1947.85" x2="755.5" y2="1947.85"/><line x1="95.3" y1="1879.46" x2="755.5" y2="1879.46"/><line x1="95.3" y1="1811.08" x2="755.5" y2="1811.08"/><line x1="95.3" y1="1742.69" x2="755.5" y2="1742.69"/><line x1="95.3" y1="1674.30" x2="755.5" y2="1674.30"/><line x1="124.60" y1="1647.6" x2="124.60" y2="2248.4"/><line x1="208.09" y1="1647.6" x2="208.09" y2="2248.4"/><line x1="291.57" y1="1647.6" x2="291.57" y2="2248.4"/><line x1="375.06" y1="1647.6" x2="375.06" y2="2248.4"/><line x1="458.55" y1="1647.6" x2="458.55" y2="2248.4"/><line x1="542.04" y1="1647.6" x2="542.04" y2="2248.4"/><line x1="625.52" y1="1647.6" x2="625.52" y2="2248.4"/><line x1="709.01" y1="1647.6" x2="709.01" y2="2248.4"/></g>
<path d="M194.71,2072.48 L197.36,2073.00 L200.00,2073.47 L202.63,2073.88 L205.25,2074.23 L207.87,2074.52 L210.47,2074.75 L213.07,2074.92 L215.66,2075.04 L218.23,2075.10 L220.80,2075.10 L223.36,2075.05 L225.90,2074.95 L228.44,2074.79 L230.96,2074.59 L233.47,2074.32 L235.96,2074.01 L238.45,2073.65 L240.92,2073.24 L243.38,2072.78 L245.82,2072.27 L248.25,2071.72 L250.67,2071.12 L253.07,2070.47 L255.45,2069.78 L257.82,2069.04 L260.18,2068.26 L262.51,2067.43 L264.84,2066.57 L267.14,2065.66 L269.43,2064.71 L271.69,2063.72 L273.94,2062.69 L276.18,2061.62 L278.39,2060.52 L280.58,2059.38 L282.76,2058.20 L284.91,2056.98 L287.05,2055.73 L289.16,2054.45 L291.26,2053.13 L293.33,2051.78 L295.38,2050.39 L297.42,2048.98 L299.43,2047.53 L301.42,2046.06 L303.40,2044.56 L305.35,2043.03 L307.29,2041.47 L309.21,2039.88 L311.11,2038.28 L313.00,2036.64 L314.86,2034.98 L316.72,2033.30 L318.55,2031.60 L320.37,2029.88 L322.18,2028.13 L323.97,2026.37 L325.74,2024.59 L327.50,2022.79 L329.25,2020.97 L330.98,2019.14 L332.70,2017.29 L334.41,2015.43 L336.11,2013.56 L337.79,2011.67 L339.46,2009.77 L341.12,2007.86 L342.77,2005.93 L344.41,2004.00 L346.03,2002.06 L347.65,2000.12 L349.26,1998.16 L350.86,1996.20 L352.45,1994.24 L354.03,1992.27 L355.60,1990.30 L357.17,1988.32 L358.73,1986.34 L360.28,1984.35 L361.82,1982.37 L363.37,1980.38 L364.90,1978.38 L366.43,1976.39 L367.96,1974.39 L369.48,1972.39 L371.00,1970.39 L372.52,1968.39 L374.04,1966.39 L375.55,1964.38 L377.06,1962.38 L378.57,1960.38 L380.09,1958.37 L381.60,1956.37 L383.11,1954.36 L384.63,1952.36 L386.14,1950.36 L387.66,1948.36 L389.18,1946.36 L390.71,1944.36 L392.24,1942.37 L393.77,1940.38 L395.31,1938.39 L396.85,1936.40 L398.40,1934.41 L399.95,1932.43 L401.51,1930.46 L403.08,1928.48 L404.66,1926.52 L406.24,1924.55 L407.84,1922.59 L409.44,1920.64 L411.05,1918.69 L412.68,1916.74 L414.31,1914.81 L415.95,1912.87 L417.61,1910.95 L419.28,1909.03 L420.96,1907.12 L422.65,1905.21 L424.36,1903.31 L426.08,1901.42 L427.82,1899.54 L429.57,1897.67 L431.33,1895.80 L433.11,1893.95 L434.91,1892.11 L436.72,1890.29 L438.55,1888.48 L440.40,1886.70 L442.26,1884.93 L444.14,1883.18 L446.03,1881.46 L447.95,1879.77 L449.87,1878.10 L451.82,1876.45 L453.79,1874.84 L455.77,1873.26 L457.77,1871.71 L459.79,1870.20 L461.83,1868.72 L463.88,1867.29 L465.96,1865.89 L468.05,1864.53 L470.16,1863.22 L472.30,1861.94 L474.45,1860.72 L476.62,1859.54 L478.82,1858.42 L481.03,1857.34 L483.26,1856.32 L485.52,1855.35 L487.79,1854.42 L490.08,1853.56 L492.38,1852.74 L494.70,1851.97 L497.03,1851.26 L499.38,1850.60 L501.74,1849.99 L504.12,1849.43 L506.50,1848.93 L508.89,1848.47 L511.30,1848.07 L513.71,1847.72 L516.12,1847.43 L518.55,1847.18 L520.98,1846.99 L523.41,1846.85 L525.85,1846.76 L528.29,1846.73 L530.74,1846.75 L533.18,1846.82 L535.62,1846.94 L538.07,1847.12 L540.51,1847.34 L542.95,1847.63 L545.38,1847.96 L547.81,1848.35 L550.24,1848.79 L552.66,1849.28 L555.07,1849.83 L557.47,1850.42 L559.87,1851.07 L562.26,1851.77 L564.64,1852.52 L567.01,1853.31 L569.37,1854.15 L571.72,1855.03 L574.07,1855.95 L576.40,1856.92 L578.73,1857.92 L581.04,1858.96 L583.35,1860.03 L585.65,1861.14 L587.93,1862.28 L590.21,1863.45 L592.48,1864.65 L594.73,1865.87 L596.98,1867.12 L599.21,1868.40 L601.43,1869.70 L603.65,1871.02 L605.85,1872.36 L608.04,1873.72 L610.21,1875.09 L612.38,1876.48 L614.53,1877.89 L616.67,1879.30 L618.80,1880.73 L620.93,1882.16 L623.04,1883.61 L625.14,1885.07 L627.23,1886.53 L629.32,1888.00 L631.40,1889.47 L633.48,1890.95 L635.54,1892.44 L637.61,1893.92 L639.66,1895.41 L641.72,1896.90 L643.77,1898.39 L645.82,1899.88 L647.87,1901.37 L649.91,1902.85 L651.96,1904.33 L654.00,1905.80 L656.05,1907.27 L658.10,1908.74 L660.14,1910.19 L662.20,1911.64 L664.25,1913.08 L666.31,1914.50 L668.37,1915.92 L670.44,1917.32 L672.51,1918.71 L674.59,1920.09 L676.68,1921.45 L678.78,1922.80 L680.88,1924.12 L682.99,1925.43 L685.11,1926.73 L687.24,1928.00 L689.39,1929.25 L691.54,1930.48 L693.71,1931.68 L695.88,1932.86 L698.08,1934.02 L700.28,1935.15 L702.50,1936.26 L704.74,1937.34 L706.99,1938.39 L709.26,1939.41 L711.54,1940.40 L713.85,1941.36 L716.17,1942.29 L718.51,1943.18 L720.87,1944.04 L723.25,1944.86 L725.65,1945.65 L725.8,2262 L714.61,2262.95 L713.78,2260.45 L712.92,2257.97 L712.02,2255.50 L711.10,2253.06 L710.14,2250.63 L709.16,2248.21 L708.14,2245.82 L707.10,2243.44 L706.02,2241.08 L704.92,2238.73 L703.79,2236.41 L702.63,2234.10 L701.44,2231.82 L700.22,2229.55 L698.98,2227.30 L697.71,2225.07 L696.41,2222.86 L695.09,2220.67 L693.73,2218.50 L692.36,2216.36 L690.95,2214.23 L689.52,2212.12 L688.07,2210.04 L686.59,2207.97 L685.08,2205.93 L683.55,2203.91 L682.00,2201.91 L680.42,2199.94 L678.82,2197.98 L677.19,2196.05 L675.55,2194.15 L673.87,2192.27 L672.18,2190.41 L670.46,2188.57 L668.72,2186.76 L666.96,2184.97 L665.18,2183.21 L663.38,2181.47 L661.55,2179.76 L659.71,2178.08 L657.84,2176.42 L655.96,2174.78 L654.05,2173.17 L652.12,2171.59 L650.18,2170.03 L648.22,2168.51 L646.23,2167.00 L644.23,2165.53 L642.21,2164.08 L640.17,2162.67 L638.12,2161.27 L636.05,2159.91 L633.96,2158.58 L631.85,2157.27 L629.73,2156.00 L627.59,2154.75 L625.43,2153.54 L623.26,2152.35 L621.07,2151.19 L618.87,2150.07 L616.65,2148.97 L614.42,2147.90 L612.18,2146.87 L609.92,2145.86 L607.64,2144.88 L605.36,2143.93 L603.06,2143.01 L600.75,2142.13 L598.42,2141.27 L596.09,2140.43 L593.74,2139.63 L591.38,2138.86 L589.02,2138.12 L586.64,2137.40 L584.25,2136.71 L581.85,2136.05 L579.44,2135.42 L577.03,2134.82 L574.60,2134.25 L572.17,2133.70 L569.73,2133.18 L567.28,2132.69 L564.82,2132.23 L562.36,2131.80 L559.89,2131.39 L557.42,2131.01 L554.94,2130.66 L552.45,2130.33 L549.96,2130.03 L547.46,2129.76 L544.96,2129.51 L542.45,2129.29 L539.95,2129.10 L537.43,2128.94 L534.92,2128.80 L532.40,2128.69 L529.88,2128.60 L527.36,2128.54 L524.83,2128.50 L522.31,2128.49 L519.78,2128.51 L517.26,2128.55 L514.73,2128.62 L512.20,2128.71 L509.68,2128.83 L507.15,2128.98 L504.63,2129.15 L502.10,2129.34 L499.58,2129.56 L497.06,2129.80 L494.55,2130.07 L492.03,2130.36 L489.52,2130.68 L487.02,2131.02 L484.51,2131.38 L482.02,2131.77 L479.52,2132.19 L477.03,2132.62 L474.55,2133.08 L472.07,2133.57 L469.60,2134.08 L467.13,2134.61 L464.67,2135.16 L462.21,2135.74 L459.76,2136.34 L457.32,2136.96 L454.88,2137.61 L452.45,2138.28 L450.02,2138.97 L447.61,2139.68 L445.20,2140.42 L442.79,2141.18 L440.40,2141.96 L438.01,2142.76 L435.63,2143.58 L433.25,2144.42 L430.89,2145.29 L428.53,2146.18 L426.18,2147.09 L423.84,2148.02 L421.51,2148.97 L419.18,2149.94 L416.87,2150.93 L414.56,2151.94 L412.27,2152.98 L409.98,2154.03 L407.70,2155.10 L405.43,2156.20 L403.17,2157.31 L400.92,2158.45 L398.69,2159.60 L396.46,2160.77 L394.24,2161.96 L392.03,2163.18 L389.84,2164.41 L387.65,2165.66 L385.47,2166.92 L383.31,2168.21 L381.16,2169.52 L379.02,2170.84 L376.89,2172.19 L374.77,2173.55 L372.67,2174.93 L370.57,2176.32 L368.49,2177.74 L366.42,2179.17 L364.37,2180.62 L362.32,2182.09 L360.29,2183.58 L358.28,2185.08 L356.27,2186.60 L354.28,2188.14 L352.30,2189.69 L350.34,2191.26 L348.39,2192.85 L346.45,2194.45 L344.53,2196.07 L342.63,2197.71 L340.73,2199.36 L338.85,2201.03 L336.99,2202.72 L335.14,2204.42 L333.31,2206.14 L331.49,2207.87 L329.69,2209.61 L327.90,2211.38 L326.13,2213.15 L324.37,2214.95 L322.63,2216.75 L320.91,2218.58 L319.20,2220.41 L317.51,2222.26 L315.84,2224.13 L314.18,2226.01 L312.54,2227.90 L310.92,2229.81 L309.31,2231.73 L307.72,2233.67 L306.15,2235.62 L304.60,2237.58 L303.06,2239.56 L301.55,2241.55 L300.05,2243.55 L298.57,2245.56 L297.10,2247.59 L295.66,2249.63 L294.24,2251.69 L292.83,2253.75 L291.44,2255.83 L290.08,2257.92 L288.73,2260.02 L287.40,2262.14 L195.2,2262 Z" fill="rgba(176,177,180,0.46)" clip-path="url(#cl)"/>
<path d="M225.82,2248.35 L227.19,2246.22 L228.57,2244.10 L229.96,2241.98 L231.34,2239.86 L232.73,2237.75 L234.12,2235.63 L235.51,2233.52 L236.90,2231.41 L238.30,2229.31 L239.69,2227.20 L241.09,2225.10 L242.50,2223.01 L243.90,2220.91 L245.31,2218.82 L246.72,2216.73 L248.14,2214.64 L249.55,2212.56 L250.98,2210.48 L252.40,2208.40 L253.83,2206.33 L255.26,2204.26 L256.69,2202.19 L258.13,2200.13 L259.57,2198.06 L261.01,2196.01 L262.46,2193.95 L263.91,2191.90 L265.36,2189.85 L266.82,2187.81 L268.28,2185.77 L269.75,2183.73 L271.22,2181.70 L272.70,2179.67 L274.17,2177.64 L275.66,2175.62 L277.14,2173.60 L278.64,2171.59 L280.13,2169.58 L281.63,2167.57 L283.14,2165.57 L284.65,2163.57 L286.16,2161.58 L287.68,2159.59 L289.21,2157.60 L290.74,2155.62 L292.27,2153.64 L293.81,2151.67 L295.35,2149.70 L296.90,2147.74 L298.46,2145.78 L300.02,2143.83 L301.58,2141.88 L303.15,2139.93 L304.73,2137.99 L306.31,2136.05 L307.90,2134.12 L309.50,2132.20 L311.09,2130.28 L312.70,2128.36 L314.31,2126.45 L315.93,2124.54 L317.55,2122.64 L319.18,2120.74 L320.82,2118.85 L322.46,2116.97 L324.11,2115.09 L325.77,2113.21 L327.43,2111.34 L329.10,2109.48 L330.77,2107.62 L332.45,2105.76 L334.14,2103.92 L335.84,2102.07 L337.54,2100.24 L339.25,2098.41 L340.97,2096.58 L342.69,2094.76 L344.42,2092.95 L346.16,2091.14 L347.91,2089.34 L349.66,2087.54 L351.42,2085.75 L353.19,2083.97 L354.96,2082.19 L356.75,2080.42 L358.54,2078.65 L360.34,2076.89 L362.15,2075.14 L363.96,2073.39 L365.78,2071.65 L367.62,2069.92 L369.45,2068.19 L371.30,2066.47 L373.16,2064.76 L375.02,2063.05 L376.90,2061.35 L378.78,2059.66 L380.67,2057.98 L382.57,2056.30 L384.48,2054.64 L386.39,2052.98 L388.32,2051.34 L390.26,2049.70 L392.20,2048.08 L394.15,2046.46 L396.12,2044.86 L398.09,2043.27 L400.07,2041.69 L402.06,2040.13 L404.06,2038.58 L406.07,2037.04 L408.09,2035.51 L410.13,2034.00 L412.17,2032.51 L414.22,2031.03 L416.28,2029.56 L418.35,2028.12 L420.43,2026.68 L422.52,2025.27 L424.62,2023.87 L426.74,2022.49 L428.86,2021.12 L430.99,2019.78 L433.14,2018.45 L435.29,2017.15 L437.46,2015.86 L439.64,2014.59 L441.83,2013.34 L444.03,2012.12 L446.24,2010.91 L448.46,2009.73 L450.70,2008.57 L452.94,2007.43 L455.20,2006.31 L457.47,2005.22 L459.75,2004.14 L462.04,2003.10 L464.34,2002.08 L466.66,2001.08 L468.98,2000.12 L471.32,1999.18 L473.66,1998.27 L476.02,1997.38 L478.38,1996.53 L480.75,1995.72 L483.14,1994.93 L485.52,1994.18 L487.92,1993.47 L490.33,1992.78 L492.74,1992.14 L495.16,1991.53 L497.58,1990.97 L500.01,1990.44 L502.45,1989.95 L504.89,1989.51 L507.34,1989.10 L509.79,1988.74 L512.25,1988.43 L514.71,1988.16 L517.18,1987.93 L519.65,1987.75 L522.12,1987.62 L524.59,1987.54 L527.07,1987.50 L529.55,1987.50 L532.02,1987.55 L534.50,1987.65 L536.98,1987.78 L539.46,1987.96 L541.94,1988.18 L544.41,1988.45 L546.88,1988.75 L549.35,1989.09 L551.82,1989.47 L554.28,1989.90 L556.74,1990.36 L559.20,1990.85 L561.65,1991.39 L564.09,1991.96 L566.53,1992.57 L568.96,1993.21 L571.38,1993.89 L573.80,1994.60 L576.21,1995.35 L578.61,1996.13 L581.00,1996.94 L583.38,1997.78 L585.75,1998.65 L588.11,1999.56 L590.47,2000.49 L592.81,2001.45 L595.14,2002.44 L597.46,2003.46 L599.78,2004.51 L602.08,2005.58 L604.37,2006.68 L606.65,2007.80 L608.92,2008.94 L611.17,2010.11 L613.42,2011.31 L615.65,2012.52 L617.87,2013.76 L620.08,2015.01 L622.27,2016.29 L624.45,2017.58 L626.62,2018.90 L628.78,2020.23 L630.92,2021.58 L633.04,2022.95 L635.16,2024.33 L637.26,2025.73 L639.34,2027.14 L641.41,2028.58 L643.47,2030.02 L645.52,2031.49 L647.55,2032.96 L649.56,2034.46 L651.57,2035.97 L653.56,2037.49 L655.53,2039.03 L657.49,2040.59 L659.44,2042.16 L661.38,2043.74 L663.30,2045.35 L665.21,2046.96 L667.11,2048.59 L668.99,2050.23 L670.86,2051.89 L672.71,2053.56 L674.56,2055.25 L676.39,2056.95 L678.20,2058.67 L680.01,2060.39 L681.80,2062.14 L683.58,2063.89 L685.34,2065.66 L687.09,2067.44 L688.83,2069.24 L690.56,2071.05 L692.27,2072.87 L693.97,2074.70 L695.66,2076.55 L697.34,2078.41 L699.00,2080.29 L700.65,2082.17 L702.29,2084.07 L703.92,2085.98 L705.53,2087.90 L707.14,2089.84 L708.73,2091.78 L710.30,2093.74 L711.87,2095.71 L713.42,2097.69 L714.96,2099.68 L716.49,2101.69 L718.01,2103.70 L719.51,2105.73 L721.00,2107.77 L722.49,2109.81 L723.95,2111.87 L725.41,2113.94" fill="none" stroke="#231f20" stroke-width="2.9" clip-path="url(#cl)"/>
<g fill="#231f20"><circle cx="194.8" cy="2221.3" r="2.65"/><circle cx="265.1" cy="2093.6" r="2.65"/><circle cx="265.1" cy="2144.7" r="2.65"/><circle cx="265.1" cy="2147.2" r="2.65"/><circle cx="265.1" cy="2165.7" r="2.65"/><circle cx="265.1" cy="2173.2" r="2.65"/><circle cx="265.1" cy="2177.4" r="2.65"/><circle cx="265.1" cy="2180.8" r="2.65"/><circle cx="265.1" cy="2187" r="2.65"/><circle cx="265.1" cy="2189.8" r="2.65"/><circle cx="265.1" cy="2194.9" r="2.65"/><circle cx="265.1" cy="2206.6" r="2.65"/><circle cx="265.1" cy="2212.1" r="2.65"/><circle cx="265.1" cy="2218.7" r="2.65"/><circle cx="358.6" cy="1968.1" r="2.65"/><circle cx="358.6" cy="2124.1" r="2.65"/><circle cx="358.6" cy="2131.9" r="2.65"/><circle cx="358.6" cy="2136.1" r="2.65"/><circle cx="358.6" cy="2147" r="2.65"/><circle cx="358.6" cy="2150.6" r="2.65"/><circle cx="358.6" cy="2192.2" r="2.65"/><circle cx="358.6" cy="2195.8" r="2.65"/><circle cx="358.6" cy="2203" r="2.65"/><circle cx="358.6" cy="2207.2" r="2.65"/><circle cx="358.6" cy="2213.5" r="2.65"/><circle cx="358.6" cy="2216" r="2.65"/><circle cx="458.6" cy="2037.1" r="2.65"/><circle cx="458.6" cy="2151.5" r="2.65"/><circle cx="458.6" cy="2163.4" r="2.65"/><circle cx="458.6" cy="2176.2" r="2.65"/><circle cx="458.6" cy="2179.7" r="2.65"/><circle cx="458.6" cy="2187.1" r="2.65"/><circle cx="458.6" cy="2202" r="2.65"/><circle cx="458.6" cy="2204.2" r="2.65"/><circle cx="458.6" cy="2216.8" r="2.65"/><circle cx="725.6" cy="1964.4" r="2.65"/><circle cx="725.6" cy="2006.5" r="2.65"/><circle cx="725.6" cy="2072.6" r="2.65"/><circle cx="725.6" cy="2086.4" r="2.65"/><circle cx="725.6" cy="2113.5" r="2.65"/><circle cx="725.6" cy="2178.3" r="2.65"/><circle cx="725.6" cy="2187" r="2.65"/><circle cx="725.6" cy="2193.2" r="2.65"/><circle cx="725.6" cy="2207.9" r="2.65"/><circle cx="725.6" cy="2213.7" r="2.65"/></g>
<rect x="95.3" y="1647.6" width="660.2" height="600.8" fill="none" stroke="#555456" stroke-width="1.2"/>
<g stroke="#555456" stroke-width="1.2"><line x1="91.6" y1="2221.40" x2="95.3" y2="2221.40"/><line x1="91.6" y1="2084.62" x2="95.3" y2="2084.62"/><line x1="91.6" y1="1947.85" x2="95.3" y2="1947.85"/><line x1="91.6" y1="1811.08" x2="95.3" y2="1811.08"/><line x1="91.6" y1="1674.30" x2="95.3" y2="1674.30"/><line x1="124.60" y1="2248.4" x2="124.60" y2="2251.8"/><line x1="291.57" y1="2248.4" x2="291.57" y2="2251.8"/><line x1="458.55" y1="2248.4" x2="458.55" y2="2251.8"/><line x1="625.52" y1="2248.4" x2="625.52" y2="2251.8"/></g>
<g font-size="25" fill="#231f20"><text x="85.2" y="2229.00" text-anchor="end">0</text><text x="85.2" y="2092.22" text-anchor="end">5</text><text x="85.2" y="1955.45" text-anchor="end">10</text><text x="85.2" y="1818.67" text-anchor="end">15</text><text x="85.2" y="1681.90" text-anchor="end">20</text><text x="124.60" y="2279.1" text-anchor="middle">0</text><text x="291.57" y="2279.1" text-anchor="middle">50</text><text x="458.55" y="2279.1" text-anchor="middle">100</text><text x="625.52" y="2279.1" text-anchor="middle">150</text><text x="425.3" y="2322" text-anchor="middle">Time after HCT (days)</text><text transform="translate(18.3,2242.3) rotate(-90)">NKT–cell recovery (x10^6 CD56+CD3+ cells/L blood)</text></g>
<clipPath id="cr"><rect x="915.5" y="1647.6" width="660.0999999999999" height="600.4000000000001"/></clipPath>
<g stroke="#555456" stroke-width="1.1"><line x1="915.5" y1="2214.25" x2="1575.6" y2="2214.25"/><line x1="915.5" y1="2166.67" x2="1575.6" y2="2166.67"/><line x1="915.5" y1="2119.10" x2="1575.6" y2="2119.10"/><line x1="915.5" y1="2071.53" x2="1575.6" y2="2071.53"/><line x1="915.5" y1="2023.95" x2="1575.6" y2="2023.95"/><line x1="915.5" y1="1976.38" x2="1575.6" y2="1976.38"/><line x1="915.5" y1="1928.80" x2="1575.6" y2="1928.80"/><line x1="915.5" y1="1881.22" x2="1575.6" y2="1881.22"/><line x1="915.5" y1="1833.65" x2="1575.6" y2="1833.65"/><line x1="915.5" y1="1786.07" x2="1575.6" y2="1786.07"/><line x1="915.5" y1="1738.50" x2="1575.6" y2="1738.50"/><line x1="915.5" y1="1690.92" x2="1575.6" y2="1690.92"/><line x1="945.40" y1="1647.6" x2="945.40" y2="2248.0"/><line x1="1028.79" y1="1647.6" x2="1028.79" y2="2248.0"/><line x1="1112.18" y1="1647.6" x2="1112.18" y2="2248.0"/><line x1="1195.58" y1="1647.6" x2="1195.58" y2="2248.0"/><line x1="1278.97" y1="1647.6" x2="1278.97" y2="2248.0"/><line x1="1362.36" y1="1647.6" x2="1362.36" y2="2248.0"/><line x1="1445.76" y1="1647.6" x2="1445.76" y2="2248.0"/><line x1="1529.15" y1="1647.6" x2="1529.15" y2="2248.0"/></g>
<path d="M1015.90,1970.06 L1017.47,1971.76 L1019.05,1973.51 L1020.64,1975.29 L1022.23,1977.12 L1023.84,1978.98 L1025.45,1980.86 L1027.08,1982.77 L1028.71,1984.71 L1030.36,1986.66 L1032.03,1988.62 L1033.70,1990.60 L1035.39,1992.57 L1037.10,1994.55 L1038.82,1996.53 L1040.55,1998.50 L1042.31,2000.46 L1044.08,2002.40 L1045.87,2004.33 L1047.67,2006.23 L1049.50,2008.10 L1051.35,2009.94 L1053.22,2011.75 L1055.11,2013.52 L1057.03,2015.25 L1058.96,2016.92 L1060.92,2018.55 L1062.91,2020.12 L1064.92,2021.63 L1066.95,2023.08 L1069.02,2024.46 L1071.10,2025.77 L1073.22,2027.01 L1075.37,2028.16 L1077.54,2029.23 L1079.75,2030.21 L1081.98,2031.11 L1084.25,2031.90 L1086.55,2032.60 L1088.88,2033.21 L1091.23,2033.74 L1093.61,2034.19 L1096.02,2034.56 L1098.44,2034.87 L1100.89,2035.12 L1103.36,2035.31 L1105.84,2035.45 L1108.34,2035.55 L1110.85,2035.60 L1113.38,2035.63 L1115.91,2035.62 L1118.46,2035.60 L1121.01,2035.55 L1123.57,2035.50 L1126.13,2035.44 L1128.69,2035.38 L1131.25,2035.33 L1133.81,2035.29 L1136.37,2035.27 L1138.92,2035.27 L1141.47,2035.30 L1144.01,2035.36 L1146.54,2035.47 L1149.05,2035.62 L1151.56,2035.81 L1154.05,2036.05 L1156.53,2036.34 L1159.00,2036.67 L1161.46,2037.04 L1163.91,2037.45 L1166.36,2037.90 L1168.79,2038.39 L1171.22,2038.92 L1173.63,2039.48 L1176.04,2040.07 L1178.45,2040.70 L1180.85,2041.36 L1183.24,2042.04 L1185.62,2042.76 L1188.00,2043.50 L1190.38,2044.27 L1192.76,2045.07 L1195.13,2045.88 L1197.49,2046.72 L1199.86,2047.58 L1202.22,2048.46 L1204.58,2049.36 L1206.94,2050.27 L1209.30,2051.20 L1211.66,2052.15 L1214.02,2053.10 L1216.38,2054.07 L1218.74,2055.03 L1221.10,2055.99 L1223.47,2056.94 L1225.83,2057.87 L1228.19,2058.79 L1230.55,2059.67 L1232.91,2060.51 L1235.28,2061.32 L1237.64,2062.08 L1240.00,2062.79 L1242.36,2063.44 L1244.72,2064.02 L1247.08,2064.54 L1249.44,2064.98 L1251.80,2065.34 L1254.15,2065.60 L1256.51,2065.78 L1258.87,2065.85 L1261.22,2065.82 L1263.58,2065.68 L1265.93,2065.42 L1268.28,2065.06 L1270.63,2064.60 L1272.98,2064.04 L1275.33,2063.40 L1277.68,2062.68 L1280.03,2061.89 L1282.38,2061.03 L1284.73,2060.12 L1287.09,2059.16 L1289.44,2058.15 L1291.79,2057.10 L1294.15,2056.03 L1296.51,2054.94 L1298.87,2053.83 L1301.23,2052.71 L1303.59,2051.59 L1305.96,2050.47 L1308.32,2049.37 L1310.70,2048.29 L1313.07,2047.24 L1315.45,2046.22 L1317.83,2045.24 L1320.21,2044.30 L1322.60,2043.43 L1324.99,2042.62 L1327.39,2041.87 L1329.79,2041.20 L1332.20,2040.61 L1334.61,2040.11 L1337.02,2039.67 L1339.44,2039.32 L1341.86,2039.03 L1344.29,2038.82 L1346.71,2038.68 L1349.14,2038.60 L1351.58,2038.58 L1354.02,2038.63 L1356.45,2038.74 L1358.89,2038.90 L1361.34,2039.12 L1363.78,2039.39 L1366.23,2039.72 L1368.67,2040.09 L1371.12,2040.51 L1373.57,2040.97 L1376.01,2041.47 L1378.46,2042.02 L1380.91,2042.60 L1383.36,2043.22 L1385.80,2043.87 L1388.25,2044.55 L1390.69,2045.26 L1393.14,2046.00 L1395.58,2046.77 L1398.02,2047.55 L1400.45,2048.36 L1402.89,2049.18 L1405.32,2050.02 L1407.75,2050.87 L1410.18,2051.74 L1412.60,2052.61 L1415.03,2053.50 L1417.45,2054.39 L1419.86,2055.28 L1422.28,2056.18 L1424.69,2057.08 L1427.10,2057.97 L1429.51,2058.87 L1431.92,2059.76 L1434.33,2060.65 L1436.73,2061.53 L1439.14,2062.40 L1441.54,2063.26 L1443.95,2064.10 L1446.35,2064.93 L1448.75,2065.75 L1451.16,2066.55 L1453.56,2067.32 L1455.96,2068.08 L1458.37,2068.81 L1460.77,2069.52 L1463.17,2070.20 L1465.58,2070.85 L1467.98,2071.48 L1470.39,2072.07 L1472.80,2072.63 L1475.21,2073.15 L1477.62,2073.63 L1480.03,2074.08 L1482.45,2074.48 L1484.86,2074.85 L1487.28,2075.17 L1489.70,2075.44 L1492.13,2075.66 L1494.55,2075.84 L1496.98,2075.97 L1499.41,2076.04 L1501.85,2076.06 L1504.28,2076.02 L1506.73,2075.92 L1509.17,2075.76 L1511.62,2075.55 L1514.07,2075.26 L1516.53,2074.92 L1518.99,2074.51 L1521.45,2074.02 L1523.92,2073.47 L1526.40,2072.85 L1528.88,2072.15 L1531.36,2071.38 L1533.85,2070.53 L1536.35,2069.60 L1538.85,2068.59 L1541.35,2067.49 L1543.86,2066.32 L1546.38,2065.05 L1546.07,2173.03 L1543.45,2172.48 L1540.85,2171.99 L1538.26,2171.57 L1535.68,2171.22 L1533.12,2170.92 L1530.56,2170.69 L1528.01,2170.52 L1525.48,2170.40 L1522.95,2170.35 L1520.43,2170.35 L1517.93,2170.41 L1515.43,2170.52 L1512.95,2170.69 L1510.47,2170.91 L1508.01,2171.18 L1505.55,2171.51 L1503.11,2171.88 L1500.67,2172.30 L1498.25,2172.77 L1495.83,2173.29 L1493.42,2173.85 L1491.03,2174.46 L1488.64,2175.11 L1486.26,2175.81 L1483.89,2176.55 L1481.53,2177.32 L1479.18,2178.14 L1476.83,2179.00 L1474.50,2179.89 L1472.17,2180.82 L1469.85,2181.79 L1467.55,2182.79 L1465.25,2183.83 L1462.95,2184.89 L1460.67,2185.99 L1458.39,2187.11 L1456.12,2188.26 L1453.85,2189.43 L1451.59,2190.61 L1449.33,2191.81 L1447.07,2193.02 L1444.82,2194.24 L1442.57,2195.46 L1440.31,2196.69 L1438.06,2197.92 L1435.81,2199.14 L1433.55,2200.36 L1431.30,2201.57 L1429.04,2202.76 L1426.77,2203.95 L1424.50,2205.11 L1422.23,2206.25 L1419.95,2207.37 L1417.66,2208.47 L1415.36,2209.53 L1413.06,2210.56 L1410.75,2211.56 L1408.42,2212.51 L1406.09,2213.43 L1403.74,2214.30 L1401.39,2215.12 L1399.02,2215.90 L1396.63,2216.62 L1394.23,2217.28 L1391.82,2217.89 L1389.39,2218.43 L1386.94,2218.91 L1384.48,2219.32 L1382.00,2219.67 L1379.51,2219.94 L1377.01,2220.15 L1374.50,2220.29 L1371.98,2220.36 L1369.47,2220.36 L1366.95,2220.29 L1364.44,2220.16 L1361.93,2219.95 L1359.43,2219.68 L1356.94,2219.33 L1354.46,2218.92 L1351.99,2218.44 L1349.54,2217.88 L1347.11,2217.26 L1344.70,2216.56 L1342.32,2215.80 L1339.96,2214.96 L1337.64,2214.06 L1335.34,2213.08 L1333.08,2212.03 L1330.85,2210.91 L1328.66,2209.72 L1326.52,2208.45 L1324.41,2207.12 L1322.34,2205.73 L1320.31,2204.27 L1318.30,2202.76 L1316.33,2201.19 L1314.39,2199.58 L1312.47,2197.93 L1310.57,2196.23 L1308.70,2194.50 L1306.84,2192.74 L1305.01,2190.94 L1303.18,2189.13 L1301.37,2187.29 L1299.57,2185.44 L1297.78,2183.57 L1296.00,2181.70 L1294.21,2179.82 L1292.43,2177.94 L1290.65,2176.07 L1288.87,2174.20 L1287.08,2172.35 L1285.28,2170.51 L1283.47,2168.69 L1281.65,2166.90 L1279.82,2165.13 L1277.97,2163.39 L1276.10,2161.69 L1274.21,2160.02 L1272.31,2158.40 L1270.39,2156.81 L1268.44,2155.27 L1266.47,2153.77 L1264.48,2152.32 L1262.47,2150.92 L1260.43,2149.58 L1258.36,2148.29 L1256.26,2147.06 L1254.14,2145.89 L1251.99,2144.78 L1249.81,2143.75 L1247.60,2142.77 L1245.35,2141.87 L1243.08,2141.03 L1240.77,2140.25 L1238.45,2139.52 L1236.09,2138.84 L1233.72,2138.19 L1231.32,2137.59 L1228.91,2137.02 L1226.48,2136.47 L1224.04,2135.95 L1221.58,2135.44 L1219.11,2134.94 L1216.64,2134.44 L1214.15,2133.95 L1211.66,2133.45 L1209.17,2132.94 L1206.68,2132.41 L1204.18,2131.86 L1201.69,2131.29 L1199.20,2130.68 L1196.72,2130.06 L1194.23,2129.40 L1191.75,2128.73 L1189.28,2128.04 L1186.80,2127.33 L1184.33,2126.60 L1181.86,2125.87 L1179.39,2125.12 L1176.92,2124.36 L1174.46,2123.60 L1171.99,2122.84 L1169.53,2122.07 L1167.07,2121.31 L1164.61,2120.54 L1162.15,2119.79 L1159.70,2119.04 L1157.24,2118.30 L1154.79,2117.57 L1152.33,2116.86 L1149.88,2116.16 L1147.42,2115.48 L1144.97,2114.83 L1142.52,2114.19 L1140.06,2113.58 L1137.61,2113.00 L1135.15,2112.45 L1132.70,2111.93 L1130.24,2111.45 L1127.79,2111.00 L1125.33,2110.59 L1122.88,2110.22 L1120.42,2109.90 L1117.96,2109.62 L1115.50,2109.39 L1113.04,2109.21 L1110.59,2109.08 L1108.14,2109.02 L1105.70,2109.02 L1103.28,2109.09 L1100.86,2109.22 L1098.47,2109.43 L1096.09,2109.72 L1093.73,2110.09 L1091.40,2110.55 L1089.09,2111.10 L1086.81,2111.74 L1084.56,2112.47 L1082.34,2113.31 L1080.15,2114.24 L1078.00,2115.28 L1075.89,2116.40 L1073.81,2117.62 L1071.76,2118.93 L1069.76,2120.32 L1067.79,2121.79 L1065.86,2123.35 L1063.97,2124.98 L1062.12,2126.68 L1060.31,2128.45 L1058.53,2130.28 L1056.79,2132.18 L1055.08,2134.13 L1053.40,2136.12 L1051.75,2138.17 L1050.13,2140.25 L1048.54,2142.37 L1046.97,2144.53 L1045.43,2146.71 L1043.90,2148.91 L1042.40,2151.13 L1040.92,2153.37 L1039.46,2155.61 L1038.01,2157.86 L1036.57,2160.11 L1035.15,2162.35 L1033.74,2164.59 L1032.34,2166.81 L1030.95,2169.02 L1029.56,2171.20 L1028.18,2173.35 L1026.80,2175.48 L1025.43,2177.56 L1024.05,2179.61 L1022.68,2181.61 L1021.30,2183.56 L1019.92,2185.46 L1018.53,2187.30 L1017.13,2189.07 L1015.73,2190.78 Z" fill="rgba(176,177,180,0.46)"/>
<path d="M1015.56,2081.01 L1018.03,2080.29 L1020.50,2079.60 L1022.98,2078.93 L1025.46,2078.29 L1027.95,2077.68 L1030.44,2077.09 L1032.93,2076.53 L1035.42,2075.99 L1037.92,2075.48 L1040.42,2075.00 L1042.93,2074.54 L1045.43,2074.10 L1047.94,2073.69 L1050.45,2073.31 L1052.96,2072.95 L1055.47,2072.61 L1057.99,2072.30 L1060.50,2072.02 L1063.02,2071.76 L1065.53,2071.52 L1068.05,2071.31 L1070.57,2071.12 L1073.09,2070.95 L1075.61,2070.81 L1078.13,2070.70 L1080.65,2070.60 L1083.17,2070.53 L1085.69,2070.49 L1088.21,2070.46 L1090.73,2070.46 L1093.24,2070.49 L1095.76,2070.53 L1098.27,2070.60 L1100.79,2070.69 L1103.30,2070.81 L1105.81,2070.95 L1108.32,2071.10 L1110.83,2071.29 L1113.33,2071.49 L1115.83,2071.72 L1118.33,2071.96 L1120.83,2072.23 L1123.32,2072.53 L1125.82,2072.84 L1128.30,2073.17 L1130.79,2073.53 L1133.27,2073.91 L1135.75,2074.30 L1138.22,2074.72 L1140.69,2075.16 L1143.16,2075.63 L1145.62,2076.11 L1148.08,2076.61 L1150.53,2077.13 L1152.98,2077.68 L1155.42,2078.24 L1157.86,2078.82 L1160.30,2079.42 L1162.73,2080.03 L1165.16,2080.66 L1167.58,2081.31 L1170.00,2081.97 L1172.42,2082.65 L1174.84,2083.34 L1177.25,2084.04 L1179.66,2084.76 L1182.07,2085.49 L1184.47,2086.23 L1186.87,2086.98 L1189.28,2087.74 L1191.67,2088.51 L1194.07,2089.28 L1196.47,2090.07 L1198.86,2090.86 L1201.25,2091.67 L1203.64,2092.47 L1206.03,2093.28 L1208.42,2094.10 L1210.81,2094.92 L1213.20,2095.75 L1215.59,2096.58 L1217.97,2097.41 L1220.36,2098.24 L1222.75,2099.07 L1225.13,2099.90 L1227.52,2100.74 L1229.91,2101.57 L1232.30,2102.40 L1234.69,2103.23 L1237.08,2104.05 L1239.47,2104.87 L1241.86,2105.69 L1244.25,2106.51 L1246.65,2107.31 L1249.04,2108.11 L1251.44,2108.91 L1253.84,2109.70 L1256.24,2110.48 L1258.65,2111.25 L1261.06,2112.01 L1263.46,2112.76 L1265.88,2113.50 L1268.29,2114.23 L1270.71,2114.95 L1273.13,2115.65 L1275.56,2116.35 L1277.98,2117.02 L1280.42,2117.69 L1282.85,2118.34 L1285.29,2118.97 L1287.73,2119.59 L1290.18,2120.20 L1292.63,2120.79 L1295.08,2121.36 L1297.53,2121.92 L1299.99,2122.47 L1302.45,2123.00 L1304.92,2123.52 L1307.38,2124.02 L1309.85,2124.50 L1312.33,2124.98 L1314.80,2125.43 L1317.28,2125.88 L1319.76,2126.30 L1322.24,2126.72 L1324.73,2127.12 L1327.22,2127.50 L1329.71,2127.87 L1332.20,2128.22 L1334.69,2128.56 L1337.19,2128.89 L1339.69,2129.20 L1342.18,2129.50 L1344.69,2129.78 L1347.19,2130.04 L1349.69,2130.29 L1352.20,2130.53 L1354.71,2130.75 L1357.22,2130.96 L1359.73,2131.16 L1362.24,2131.33 L1364.75,2131.50 L1367.26,2131.65 L1369.78,2131.78 L1372.29,2131.90 L1374.81,2132.01 L1377.32,2132.10 L1379.84,2132.18 L1382.36,2132.24 L1384.88,2132.29 L1387.40,2132.32 L1389.92,2132.34 L1392.44,2132.34 L1394.96,2132.33 L1397.48,2132.30 L1400.00,2132.26 L1402.52,2132.21 L1405.03,2132.14 L1407.55,2132.06 L1410.07,2131.96 L1412.59,2131.85 L1415.11,2131.72 L1417.63,2131.59 L1420.15,2131.43 L1422.67,2131.27 L1425.18,2131.10 L1427.70,2130.91 L1430.22,2130.72 L1432.74,2130.51 L1435.25,2130.30 L1437.77,2130.08 L1440.29,2129.84 L1442.80,2129.60 L1445.32,2129.36 L1447.83,2129.10 L1450.35,2128.84 L1452.86,2128.57 L1455.38,2128.30 L1457.89,2128.02 L1460.40,2127.74 L1462.92,2127.46 L1465.43,2127.17 L1467.94,2126.87 L1470.45,2126.58 L1472.97,2126.28 L1475.48,2125.98 L1477.99,2125.68 L1480.50,2125.38 L1483.01,2125.08 L1485.52,2124.78 L1488.03,2124.48 L1490.54,2124.18 L1493.05,2123.89 L1495.55,2123.59 L1498.06,2123.30 L1500.57,2123.01 L1503.08,2122.73 L1505.58,2122.45 L1508.09,2122.17 L1510.59,2121.90 L1513.10,2121.64 L1515.60,2121.38 L1518.11,2121.13 L1520.61,2120.89 L1523.12,2120.65 L1525.62,2120.42 L1528.12,2120.21 L1530.62,2120.00 L1533.12,2119.80 L1535.63,2119.61 L1538.13,2119.43 L1540.63,2119.26 L1543.13,2119.10 L1545.62,2118.96" fill="none" stroke="#231f20" stroke-width="2.9"/>
<g fill="#231f20"><circle cx="1015.7" cy="2119.2" r="2.65"/><circle cx="1085.6" cy="1674.3" r="2.65"/><circle cx="1085.6" cy="1925.7" r="2.65"/><circle cx="1085.6" cy="1951.4" r="2.65"/><circle cx="1085.6" cy="2118.6" r="2.65"/><circle cx="1085.6" cy="2119.4" r="2.65"/><circle cx="1179" cy="1780" r="2.65"/><circle cx="1179" cy="2044.1" r="2.65"/><circle cx="1179" cy="2119.3" r="2.65"/><circle cx="1279.2" cy="2091.5" r="2.65"/><circle cx="1279.2" cy="2106.7" r="2.65"/><circle cx="1279.2" cy="2113" r="2.65"/><circle cx="1279.2" cy="2118.9" r="2.65"/><circle cx="1545.7" cy="2119.1" r="2.65"/></g>
<rect x="915.5" y="1647.6" width="660.1" height="600.4" fill="none" stroke="#555456" stroke-width="1.2"/>
<g stroke="#555456" stroke-width="1.2"><line x1="912" y1="2214.25" x2="915.5" y2="2214.25"/><line x1="912" y1="2119.10" x2="915.5" y2="2119.10"/><line x1="912" y1="2023.95" x2="915.5" y2="2023.95"/><line x1="912" y1="1928.80" x2="915.5" y2="1928.80"/><line x1="912" y1="1833.65" x2="915.5" y2="1833.65"/><line x1="912" y1="1738.50" x2="915.5" y2="1738.50"/><line x1="945.40" y1="2248.0" x2="945.40" y2="2251.4"/><line x1="1112.18" y1="2248.0" x2="1112.18" y2="2251.4"/><line x1="1278.97" y1="2248.0" x2="1278.97" y2="2251.4"/><line x1="1445.76" y1="2248.0" x2="1445.76" y2="2251.4"/></g>
<g font-size="25" fill="#231f20"><text x="904" y="2222.75" text-anchor="end">–1</text><text x="904" y="2127.60" text-anchor="end">0</text><text x="904" y="2032.45" text-anchor="end">1</text><text x="904" y="1937.30" text-anchor="end">2</text><text x="904" y="1842.15" text-anchor="end">3</text><text x="904" y="1747.00" text-anchor="end">4</text><text x="945.40" y="2279.1" text-anchor="middle">0</text><text x="1112.18" y="2279.1" text-anchor="middle">50</text><text x="1278.97" y="2279.1" text-anchor="middle">100</text><text x="1445.76" y="2279.1" text-anchor="middle">150</text><text x="1245.5" y="2322" text-anchor="middle">Time after HCT (days)</text><text transform="translate(828,2245.4) rotate(-90)">iNKT–cell recovery (x10^6 CD56+CD3+ TCRVbeta11+</text><text transform="translate(857.9,2104.1) rotate(-90)">TCRValpha24+ cells/L blood)</text></g></svg>
</body></html>
